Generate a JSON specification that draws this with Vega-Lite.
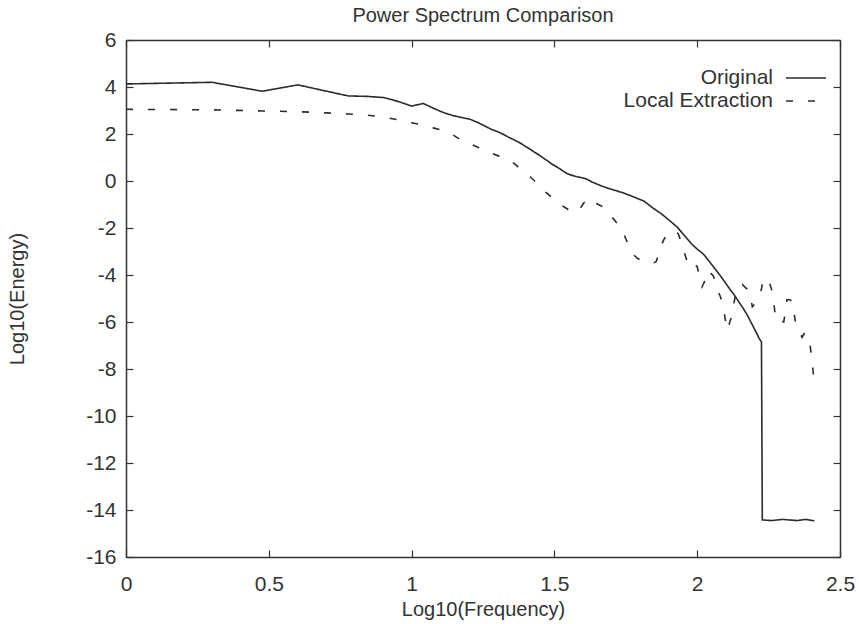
{
  "$schema": "https://vega.github.io/schema/vega-lite/v6.json",
  "width": 714,
  "height": 517,
  "autosize": {"type": "none"},
  "padding": {"left": 126, "top": 40, "right": 19, "bottom": 67},
  "background": "white",
  "title": {"text": "Power Spectrum Comparison", "font": "Liberation Sans", "fontSize": 20, "fontWeight": "normal", "color": "#333", "anchor": "middle", "offset": 3},
  "config": {
    "view": {"stroke": null},
    "axis": {"grid": false, "domainColor": "#333", "domainWidth": 1.5, "tickColor": "#333", "tickWidth": 1.2, "tickSize": -7,
      "labelFont": "Liberation Sans", "labelFontSize": 21, "labelColor": "#333", "titleFont": "Liberation Sans", "titleFontSize": 20, "titleFontWeight": "normal", "titleColor": "#333"},
    "legend": {"labelFont": "Liberation Sans", "labelFontSize": 21, "labelColor": "#333"}
  },
  "data": {"values": [
    {"series": "Original", "x": 0, "y": 4.13},
    {"series": "Original", "x": 0.301, "y": 4.2},
    {"series": "Original", "x": 0.477, "y": 3.82},
    {"series": "Original", "x": 0.602, "y": 4.09},
    {"series": "Original", "x": 0.699, "y": 3.83},
    {"series": "Original", "x": 0.778, "y": 3.62},
    {"series": "Original", "x": 0.845, "y": 3.6},
    {"series": "Original", "x": 0.903, "y": 3.55},
    {"series": "Original", "x": 0.954, "y": 3.38},
    {"series": "Original", "x": 1.0, "y": 3.19},
    {"series": "Original", "x": 1.041, "y": 3.3},
    {"series": "Original", "x": 1.079, "y": 3.08},
    {"series": "Original", "x": 1.114, "y": 2.9},
    {"series": "Original", "x": 1.146, "y": 2.78},
    {"series": "Original", "x": 1.176, "y": 2.7},
    {"series": "Original", "x": 1.204, "y": 2.63},
    {"series": "Original", "x": 1.23, "y": 2.5},
    {"series": "Original", "x": 1.255, "y": 2.35},
    {"series": "Original", "x": 1.279, "y": 2.2},
    {"series": "Original", "x": 1.301, "y": 2.1},
    {"series": "Original", "x": 1.322, "y": 1.98},
    {"series": "Original", "x": 1.342, "y": 1.85},
    {"series": "Original", "x": 1.362, "y": 1.73},
    {"series": "Original", "x": 1.38, "y": 1.62},
    {"series": "Original", "x": 1.398, "y": 1.48},
    {"series": "Original", "x": 1.415, "y": 1.35},
    {"series": "Original", "x": 1.431, "y": 1.22},
    {"series": "Original", "x": 1.447, "y": 1.1},
    {"series": "Original", "x": 1.462, "y": 0.97},
    {"series": "Original", "x": 1.477, "y": 0.85},
    {"series": "Original", "x": 1.491, "y": 0.72},
    {"series": "Original", "x": 1.505, "y": 0.62},
    {"series": "Original", "x": 1.519, "y": 0.52},
    {"series": "Original", "x": 1.531, "y": 0.42},
    {"series": "Original", "x": 1.544, "y": 0.32},
    {"series": "Original", "x": 1.556, "y": 0.26},
    {"series": "Original", "x": 1.568, "y": 0.22},
    {"series": "Original", "x": 1.58, "y": 0.18},
    {"series": "Original", "x": 1.591, "y": 0.15},
    {"series": "Original", "x": 1.602, "y": 0.12},
    {"series": "Original", "x": 1.613, "y": 0.08},
    {"series": "Original", "x": 1.623, "y": 0.02},
    {"series": "Original", "x": 1.633, "y": -0.05},
    {"series": "Original", "x": 1.643, "y": -0.1},
    {"series": "Original", "x": 1.653, "y": -0.15},
    {"series": "Original", "x": 1.663, "y": -0.2},
    {"series": "Original", "x": 1.681, "y": -0.28},
    {"series": "Original", "x": 1.699, "y": -0.35},
    {"series": "Original", "x": 1.74, "y": -0.5},
    {"series": "Original", "x": 1.778, "y": -0.68},
    {"series": "Original", "x": 1.813, "y": -0.85},
    {"series": "Original", "x": 1.845, "y": -1.15},
    {"series": "Original", "x": 1.875, "y": -1.4},
    {"series": "Original", "x": 1.903, "y": -1.68},
    {"series": "Original", "x": 1.929, "y": -1.95},
    {"series": "Original", "x": 1.954, "y": -2.3},
    {"series": "Original", "x": 1.978, "y": -2.65},
    {"series": "Original", "x": 2.0, "y": -2.9},
    {"series": "Original", "x": 2.021, "y": -3.1},
    {"series": "Original", "x": 2.041, "y": -3.4},
    {"series": "Original", "x": 2.06, "y": -3.7},
    {"series": "Original", "x": 2.079, "y": -4.0},
    {"series": "Original", "x": 2.097, "y": -4.3},
    {"series": "Original", "x": 2.114, "y": -4.6},
    {"series": "Original", "x": 2.13, "y": -4.85},
    {"series": "Original", "x": 2.146, "y": -5.15},
    {"series": "Original", "x": 2.161, "y": -5.42},
    {"series": "Original", "x": 2.176, "y": -5.72},
    {"series": "Original", "x": 2.19, "y": -6.05},
    {"series": "Original", "x": 2.204, "y": -6.38},
    {"series": "Original", "x": 2.217, "y": -6.7},
    {"series": "Original", "x": 2.225, "y": -6.85},
    {"series": "Original", "x": 2.228, "y": -14.42},
    {"series": "Original", "x": 2.26, "y": -14.45},
    {"series": "Original", "x": 2.3, "y": -14.4},
    {"series": "Original", "x": 2.35, "y": -14.45},
    {"series": "Original", "x": 2.38, "y": -14.4},
    {"series": "Original", "x": 2.41, "y": -14.46},
    {"series": "Local Extraction", "x": 0, "y": 3.05},
    {"series": "Local Extraction", "x": 0.301, "y": 3.03},
    {"series": "Local Extraction", "x": 0.477, "y": 2.98},
    {"series": "Local Extraction", "x": 0.602, "y": 2.95},
    {"series": "Local Extraction", "x": 0.699, "y": 2.9},
    {"series": "Local Extraction", "x": 0.778, "y": 2.85},
    {"series": "Local Extraction", "x": 0.845, "y": 2.8},
    {"series": "Local Extraction", "x": 0.903, "y": 2.72},
    {"series": "Local Extraction", "x": 0.954, "y": 2.6},
    {"series": "Local Extraction", "x": 1.0, "y": 2.48},
    {"series": "Local Extraction", "x": 1.041, "y": 2.38},
    {"series": "Local Extraction", "x": 1.079, "y": 2.25},
    {"series": "Local Extraction", "x": 1.114, "y": 2.14},
    {"series": "Local Extraction", "x": 1.146, "y": 1.95},
    {"series": "Local Extraction", "x": 1.176, "y": 1.72},
    {"series": "Local Extraction", "x": 1.204, "y": 1.58},
    {"series": "Local Extraction", "x": 1.23, "y": 1.45},
    {"series": "Local Extraction", "x": 1.255, "y": 1.3},
    {"series": "Local Extraction", "x": 1.279, "y": 1.18},
    {"series": "Local Extraction", "x": 1.301, "y": 1.08},
    {"series": "Local Extraction", "x": 1.322, "y": 1.0},
    {"series": "Local Extraction", "x": 1.342, "y": 0.9},
    {"series": "Local Extraction", "x": 1.362, "y": 0.72},
    {"series": "Local Extraction", "x": 1.38, "y": 0.52},
    {"series": "Local Extraction", "x": 1.398, "y": 0.35},
    {"series": "Local Extraction", "x": 1.415, "y": 0.18},
    {"series": "Local Extraction", "x": 1.431, "y": 0.0},
    {"series": "Local Extraction", "x": 1.447, "y": -0.2},
    {"series": "Local Extraction", "x": 1.462, "y": -0.4},
    {"series": "Local Extraction", "x": 1.477, "y": -0.55},
    {"series": "Local Extraction", "x": 1.491, "y": -0.7},
    {"series": "Local Extraction", "x": 1.505, "y": -0.8},
    {"series": "Local Extraction", "x": 1.519, "y": -0.95},
    {"series": "Local Extraction", "x": 1.531, "y": -1.08},
    {"series": "Local Extraction", "x": 1.544, "y": -1.18},
    {"series": "Local Extraction", "x": 1.556, "y": -1.28},
    {"series": "Local Extraction", "x": 1.568, "y": -1.35},
    {"series": "Local Extraction", "x": 1.58, "y": -1.3},
    {"series": "Local Extraction", "x": 1.591, "y": -1.15},
    {"series": "Local Extraction", "x": 1.602, "y": -0.95},
    {"series": "Local Extraction", "x": 1.613, "y": -0.8},
    {"series": "Local Extraction", "x": 1.623, "y": -0.72},
    {"series": "Local Extraction", "x": 1.633, "y": -0.78},
    {"series": "Local Extraction", "x": 1.643, "y": -0.9},
    {"series": "Local Extraction", "x": 1.653, "y": -1.0},
    {"series": "Local Extraction", "x": 1.663, "y": -1.05},
    {"series": "Local Extraction", "x": 1.677, "y": -1.16},
    {"series": "Local Extraction", "x": 1.69, "y": -1.35},
    {"series": "Local Extraction", "x": 1.699, "y": -1.5},
    {"series": "Local Extraction", "x": 1.716, "y": -1.75},
    {"series": "Local Extraction", "x": 1.732, "y": -1.95},
    {"series": "Local Extraction", "x": 1.748, "y": -2.4},
    {"series": "Local Extraction", "x": 1.763, "y": -2.85},
    {"series": "Local Extraction", "x": 1.778, "y": -3.15},
    {"series": "Local Extraction", "x": 1.792, "y": -3.3},
    {"series": "Local Extraction", "x": 1.806, "y": -3.4},
    {"series": "Local Extraction", "x": 1.82, "y": -3.45},
    {"series": "Local Extraction", "x": 1.833, "y": -3.5},
    {"series": "Local Extraction", "x": 1.845, "y": -3.5},
    {"series": "Local Extraction", "x": 1.857, "y": -3.42},
    {"series": "Local Extraction", "x": 1.869, "y": -2.95},
    {"series": "Local Extraction", "x": 1.881, "y": -2.55},
    {"series": "Local Extraction", "x": 1.892, "y": -2.3},
    {"series": "Local Extraction", "x": 1.903, "y": -2.2},
    {"series": "Local Extraction", "x": 1.914, "y": -2.15},
    {"series": "Local Extraction", "x": 1.924, "y": -2.12},
    {"series": "Local Extraction", "x": 1.934, "y": -2.25},
    {"series": "Local Extraction", "x": 1.944, "y": -2.6},
    {"series": "Local Extraction", "x": 1.954, "y": -3.0},
    {"series": "Local Extraction", "x": 1.964, "y": -3.4},
    {"series": "Local Extraction", "x": 1.973, "y": -3.65},
    {"series": "Local Extraction", "x": 1.982, "y": -3.65},
    {"series": "Local Extraction", "x": 1.991, "y": -3.55},
    {"series": "Local Extraction", "x": 2.0, "y": -3.65},
    {"series": "Local Extraction", "x": 2.009, "y": -4.1},
    {"series": "Local Extraction", "x": 2.017, "y": -4.5},
    {"series": "Local Extraction", "x": 2.025, "y": -4.3},
    {"series": "Local Extraction", "x": 2.033, "y": -3.9},
    {"series": "Local Extraction", "x": 2.041, "y": -3.8},
    {"series": "Local Extraction", "x": 2.049, "y": -3.95},
    {"series": "Local Extraction", "x": 2.057, "y": -4.05},
    {"series": "Local Extraction", "x": 2.064, "y": -4.4},
    {"series": "Local Extraction", "x": 2.072, "y": -4.7},
    {"series": "Local Extraction", "x": 2.079, "y": -4.85},
    {"series": "Local Extraction", "x": 2.086, "y": -5.1},
    {"series": "Local Extraction", "x": 2.093, "y": -5.5},
    {"series": "Local Extraction", "x": 2.1, "y": -6.0},
    {"series": "Local Extraction", "x": 2.107, "y": -6.35},
    {"series": "Local Extraction", "x": 2.114, "y": -6.0},
    {"series": "Local Extraction", "x": 2.121, "y": -5.75},
    {"series": "Local Extraction", "x": 2.127, "y": -5.3},
    {"series": "Local Extraction", "x": 2.134, "y": -4.85},
    {"series": "Local Extraction", "x": 2.146, "y": -4.45},
    {"series": "Local Extraction", "x": 2.158, "y": -4.4},
    {"series": "Local Extraction", "x": 2.17, "y": -4.55},
    {"series": "Local Extraction", "x": 2.182, "y": -4.65},
    {"series": "Local Extraction", "x": 2.188, "y": -5.0},
    {"series": "Local Extraction", "x": 2.193, "y": -5.35},
    {"series": "Local Extraction", "x": 2.204, "y": -5.2},
    {"series": "Local Extraction", "x": 2.215, "y": -5.0},
    {"series": "Local Extraction", "x": 2.225, "y": -4.6},
    {"series": "Local Extraction", "x": 2.23, "y": -4.2},
    {"series": "Local Extraction", "x": 2.24, "y": -4.15},
    {"series": "Local Extraction", "x": 2.25, "y": -4.2},
    {"series": "Local Extraction", "x": 2.26, "y": -4.6},
    {"series": "Local Extraction", "x": 2.267, "y": -5.0},
    {"series": "Local Extraction", "x": 2.272, "y": -5.6},
    {"series": "Local Extraction", "x": 2.276, "y": -5.95},
    {"series": "Local Extraction", "x": 2.29, "y": -5.95},
    {"series": "Local Extraction", "x": 2.303, "y": -6.0},
    {"series": "Local Extraction", "x": 2.31, "y": -5.5},
    {"series": "Local Extraction", "x": 2.314, "y": -5.05},
    {"series": "Local Extraction", "x": 2.324, "y": -5.05},
    {"series": "Local Extraction", "x": 2.336, "y": -5.15},
    {"series": "Local Extraction", "x": 2.34, "y": -5.7},
    {"series": "Local Extraction", "x": 2.346, "y": -6.15},
    {"series": "Local Extraction", "x": 2.358, "y": -6.45},
    {"series": "Local Extraction", "x": 2.367, "y": -6.65},
    {"series": "Local Extraction", "x": 2.377, "y": -6.45},
    {"series": "Local Extraction", "x": 2.386, "y": -6.6},
    {"series": "Local Extraction", "x": 2.394, "y": -6.8},
    {"series": "Local Extraction", "x": 2.4, "y": -7.5},
    {"series": "Local Extraction", "x": 2.405, "y": -8.0},
    {"series": "Local Extraction", "x": 2.41, "y": -8.6}
  ]},
  "layer": [
    {
      "mark": {"type": "line", "strokeWidth": 1.6, "interpolate": "linear"},
      "encoding": {
        "x": {"field": "x", "type": "quantitative", "scale": {"domain": [0, 2.5], "nice": false, "zero": false},
          "axis": {"title": "Log10(Frequency)", "values": [0, 0.5, 1, 1.5, 2, 2.5], "labelExpr": "toString(datum.value)", "labelPadding": 23, "titlePadding": 5, "labelFlush": false}},
        "y": {"field": "y", "type": "quantitative", "scale": {"domain": [-16, 6], "nice": false, "zero": false},
          "axis": {"title": "Log10(Energy)", "values": [-16, -14, -12, -10, -8, -6, -4, -2, 0, 2, 4, 6], "labelExpr": "toString(datum.value)", "labelPadding": 17, "titlePadding": 58, "labelFlush": false}},
        "color": {"field": "series", "type": "nominal", "scale": {"domain": ["Original", "Local Extraction"], "range": ["#2b2b2b", "#2b2b2b"]},
          "legend": {"title": null, "values": ["Original"], "orient": "none", "legendX": 659, "legendY": 17, "padding": 0, "labelAlign": "right", "labelOffset": -54, "symbolType": "stroke", "symbolSize": 1600, "symbolStrokeWidth": 1.6, "symbolStrokeColor": "#2b2b2b"}},
        "strokeDash": {"field": "series", "type": "nominal", "scale": {"domain": ["Local Extraction", "Original"], "range": [[7, 15], [1, 0]]},
          "legend": {"title": null, "values": ["Local Extraction"], "orient": "none", "legendX": 659, "legendY": 40, "padding": 0, "labelAlign": "right", "labelOffset": -54, "symbolType": "stroke", "symbolSize": 1600, "symbolStrokeWidth": 1.6, "symbolStrokeColor": "#2b2b2b"}},
        "order": {"field": "x", "type": "quantitative"}
      }
    },
    {
      "mark": {"type": "line", "opacity": 0},
      "encoding": {
        "x": {"field": "x", "type": "quantitative", "axis": {"orient": "top", "labels": false, "title": null, "values": [0, 0.5, 1, 1.5, 2, 2.5]}},
        "y": {"field": "y", "type": "quantitative", "axis": {"orient": "right", "labels": false, "title": null, "values": [-16, -14, -12, -10, -8, -6, -4, -2, 0, 2, 4, 6]}},
        "detail": {"field": "series"}
      }
    }
  ],
  "resolve": {"axis": {"x": "independent", "y": "independent"}}
}
